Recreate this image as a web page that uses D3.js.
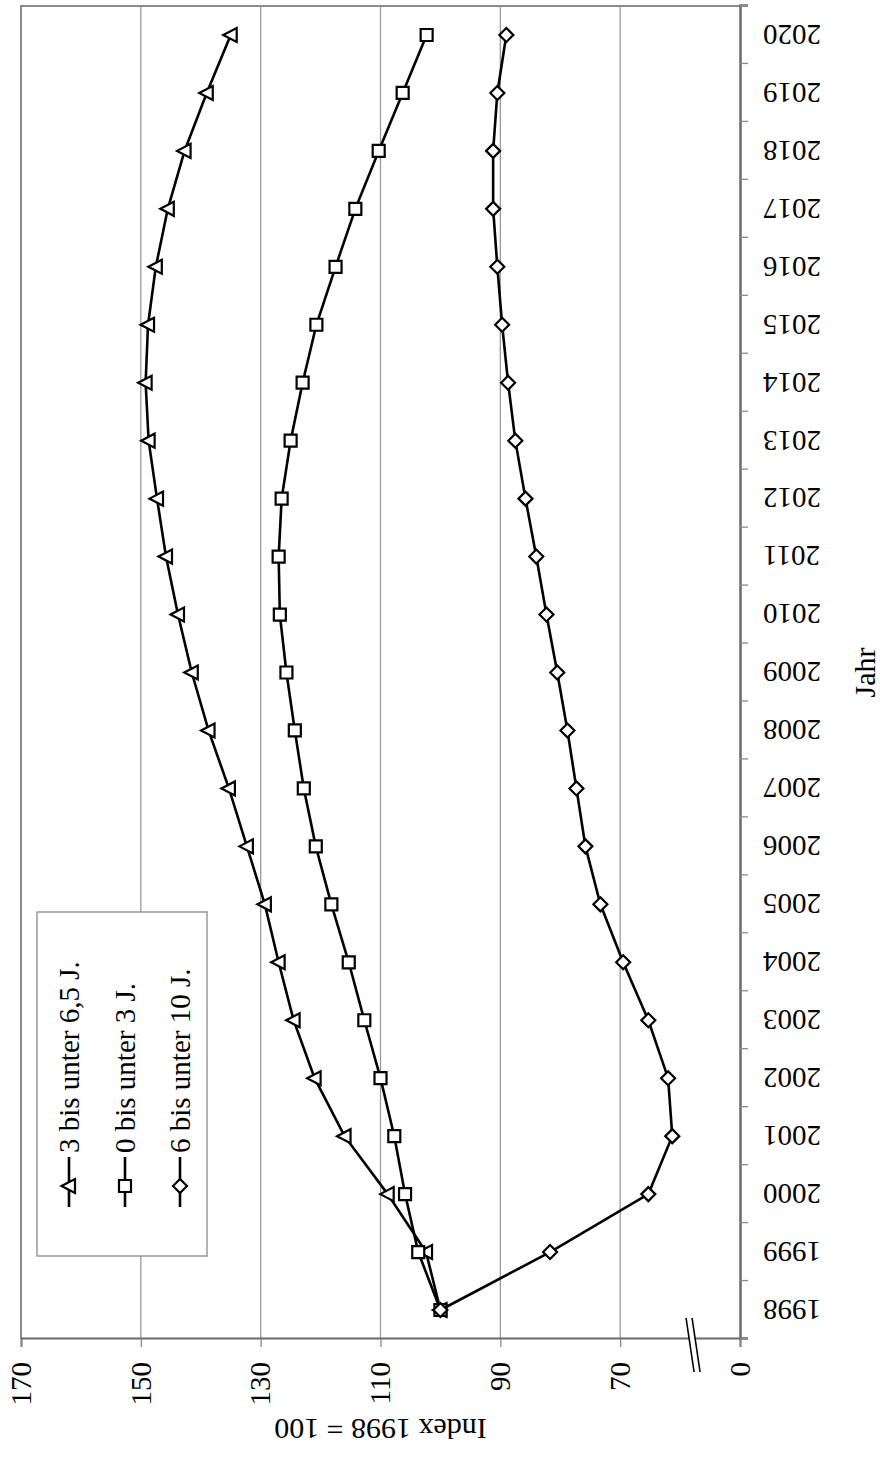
<!DOCTYPE html>
<html>
<head>
<meta charset="utf-8">
<script src="https://cdn.jsdelivr.net/npm/d3@7"></script>
<style>
  body { margin: 0; background: #fff; }
  text { font-family: "Liberation Serif", "Times New Roman", serif; fill: #000; }
</style>
</head>
<body>
<svg id="chart" width="880" height="1457"></svg>
<script>
// data (index 1998 = 100)
var years = [1998, 1999, 2000, 2001, 2002, 2003, 2004, 2005, 2006, 2007, 2008, 2009,
             2010, 2011, 2012, 2013, 2014, 2015, 2016, 2017, 2018, 2019, 2020];
var age3to65 = [100, 102.4, 108.8, 116, 121, 124.5, 127, 129.3, 132.3, 135.3, 138.7, 141.5,
                143.8, 145.8, 147.3, 148.7, 149.2, 148.8, 147.5, 145.5, 142.7, 139, 135];
var age0to3 = [100, 103.7, 105.9, 107.7, 110, 112.7, 115.3, 118.2, 120.8, 122.8, 124.3, 125.7,
               126.8, 127, 126.5, 125, 123, 120.7, 117.5, 114.2, 110.3, 106.3, 102.3];
var age6to10 = [100, 81.7, 65.3, 61.3, 62, 65.3, 69.5, 73.3, 75.8, 77.3, 78.8, 80.5,
                82.3, 84, 85.8, 87.5, 88.7, 89.7, 90.5, 91.2, 91.2, 90.5, 89];
var seriesNames = ["3 bis unter 6,5 J.", "0 bis unter 3 J.", "6 bis unter 10 J."];
var yTicks = [50, 70, 90, 110, 130, 150, 170];

var W = 1457, H = 880; // chart is drawn unrotated, then turned 90deg
var svg = d3.select("#chart");
var g = svg.append("g").attr("transform", "translate(0," + W + ") rotate(-90)");

var pLeft = 118, pRight = 1451, pTop = 21, pBottom = 740;

var x = d3.scaleBand().domain(years).range([pLeft, pRight]).padding(0);
var xc = function(d) { return x(d) + x.bandwidth() / 2; };
var y = d3.scaleLinear().domain([50, 170]).range([pBottom, pTop]);

// gridlines
g.append("g").selectAll("line")
  .data(yTicks.slice(1, -1))
  .enter().append("line")
  .attr("x1", pLeft).attr("x2", pRight)
  .attr("y1", y).attr("y2", y)
  .attr("stroke", "#9a9a9a").attr("stroke-width", 1.3);

// plot frame (top and right of unrotated chart)
g.append("path")
  .attr("d", "M" + pLeft + "," + y(170) + "H" + pRight + "V" + pBottom)
  .attr("fill", "none").attr("stroke", "#8a8a8a").attr("stroke-width", 2);

// y axis
var yAxis = g.append("g").attr("transform", "translate(" + pLeft + ",0)")
  .call(d3.axisLeft(y).tickValues(yTicks).tickSize(8).tickPadding(15)
    .tickFormat(function(d) { return d === 50 ? "0" : d; }));
yAxis.select(".domain").attr("stroke", "#6a6a6a").attr("stroke-width", 2);
yAxis.selectAll(".tick line").attr("stroke", "#8a8a8a").attr("stroke-width", 1.3);
yAxis.selectAll("text").attr("font-size", 29);

// x axis: ticks at category boundaries
var xb = d3.scaleLinear().domain([0, years.length]).range([pLeft, pRight]);
var xAxis = g.append("g").attr("transform", "translate(0," + pBottom + ")")
  .call(d3.axisBottom(xb).tickValues(d3.range(0, years.length + 1)).tickSize(8).tickFormat(""));
xAxis.select(".domain").attr("stroke", "#6a6a6a").attr("stroke-width", 2.5);
xAxis.selectAll(".tick line").attr("stroke", "#8a8a8a").attr("stroke-width", 1.3);

g.append("g").selectAll("text")
  .data(years)
  .enter().append("text")
  .attr("transform", function(d) { return "translate(" + xc(d) + "," + (pBottom + 23) + ") rotate(-90)"; })
  .attr("dy", "0.35em")
  .attr("text-anchor", "end")
  .attr("font-size", 29)
  .text(function(d) { return d; });

// axis break marks
var bx = y(57.5);
var brk = g.append("g");
brk.append("path")
  .attr("d", "M" + (pLeft + 21) + "," + (bx - 9) + "L" + (pLeft - 33) + "," + (bx - 1) +
             "L" + (pLeft - 33) + "," + (bx + 5) + "L" + (pLeft + 21) + "," + (bx - 3) + "Z")
  .attr("fill", "#fff");
[0, 6].forEach(function(o) {
  brk.append("line")
    .attr("x1", pLeft + 21).attr("y1", bx - 9 + o)
    .attr("x2", pLeft - 33).attr("y2", bx - 1 + o)
    .attr("stroke", "#000").attr("stroke-width", 1.6);
});

// axis titles
g.append("text")
  .attr("transform", "translate(28," + ((pTop + pBottom) / 2) + ") rotate(-90)")
  .attr("dy", "0.35em").attr("text-anchor", "middle").attr("font-size", 30)
  .text("Index 1998 = 100");
g.append("text")
  .attr("x", (pLeft + pRight) / 2).attr("y", 864)
  .attr("dy", "0.35em").attr("text-anchor", "middle").attr("font-size", 30)
  .text("Jahr");

// marker shapes
var triShape = { draw: function(c, s) { c.moveTo(0, -7.5); c.lineTo(7, 6); c.lineTo(-7, 6); c.closePath(); } };
var sqShape = { draw: function(c, s) { c.rect(-6, -6, 12, 12); } };
var diaShape = { draw: function(c, s) { c.moveTo(0, -7); c.lineTo(7, 0); c.lineTo(0, 7); c.lineTo(-7, 0); c.closePath(); } };

var series = [
  { name: seriesNames[0], values: age3to65, shape: triShape },
  { name: seriesNames[1], values: age0to3, shape: sqShape },
  { name: seriesNames[2], values: age6to10, shape: diaShape }
];

var line = d3.line()
  .x(function(d, i) { return xc(years[i]); })
  .y(function(d) { return y(d); });

series.forEach(function(s) {
  var sg = g.append("g");
  sg.append("path")
    .attr("d", line(s.values))
    .attr("fill", "none").attr("stroke", "#000").attr("stroke-width", 2.6);
  sg.selectAll("path.m")
    .data(s.values)
    .enter().append("path")
    .attr("class", "m")
    .attr("transform", function(d, i) { return "translate(" + xc(years[i]) + "," + y(d) + ")"; })
    .attr("d", d3.symbol().type(s.shape))
    .attr("fill", "#fff").attr("stroke", "#000").attr("stroke-width", 2.2);
});

// legend
var lg = g.append("g");
lg.append("rect")
  .attr("x", 201).attr("y", 37).attr("width", 344).attr("height", 170)
  .attr("fill", "#fff").attr("stroke", "#8a8a8a").attr("stroke-width", 1.3);
var rows = [69, 125, 180];
series.forEach(function(s, i) {
  lg.append("line")
    .attr("x1", 250).attr("x2", 300).attr("y1", rows[i]).attr("y2", rows[i])
    .attr("stroke", "#000").attr("stroke-width", 2.6);
  lg.append("path")
    .attr("transform", "translate(271," + rows[i] + ")")
    .attr("d", d3.symbol().type(s.shape))
    .attr("fill", "#fff").attr("stroke", "#000").attr("stroke-width", 2.2);
  lg.append("text")
    .attr("x", 304).attr("y", rows[i]).attr("dy", "0.35em")
    .attr("font-size", 29)
    .text(s.name);
});
</script>
</body>
</html>
